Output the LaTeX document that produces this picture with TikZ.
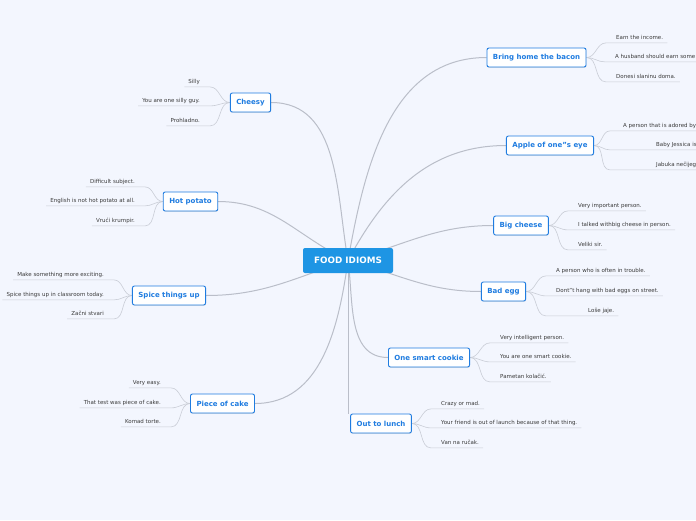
\documentclass[tikz,border=0pt]{standalone}
\usepackage{fontspec}
\setmainfont{DejaVu Sans}
\usetikzlibrary{shadows,backgrounds}
\definecolor{paper}{HTML}{F3F6FE}
\definecolor{mapblue}{HTML}{1E95E4}
\definecolor{topicblue}{HTML}{1F7CE0}
\definecolor{twiggrey}{HTML}{C9CDD6}
\definecolor{branchgrey}{HTML}{BABEC9}
\definecolor{leafink}{HTML}{3A3A3A}

\begin{document}
\begin{tikzpicture}[x=1pt, y=1pt,
    root/.style={rectangle, rounded corners=2pt, fill=mapblue, text=white, font=\fontsize{8.8}{10}\selectfont\bfseries, minimum width=90pt, minimum height=25pt},
    topic/.style={rectangle, rounded corners=2pt, draw=topicblue, line width=0.9pt, fill=white, text=topicblue, font=\fontsize{7}{8}\selectfont\bfseries, minimum height=19pt, inner xsep=6pt, drop shadow={opacity=0.2, shadow xshift=0.4pt, shadow yshift=-0.8pt}},
    leaf/.style={font=\fontsize{5.5}{6.5}\selectfont, text=leafink, inner xsep=4pt, inner ysep=2.2pt, text height=4pt, text depth=1pt},
    rleaf/.style={leaf, anchor=west},
    lleaf/.style={leaf, anchor=east},
    branch/.style={draw=branchgrey, line width=1pt},
    twig/.style={draw=twiggrey, line width=0.6pt}
]
\useasboundingbox (0,0) rectangle (696,-520);

% centre
\node[root] (food) at (348,-260.5) {FOOD IDIOMS};

% topics, right side
\node[topic] (bacon)  at (536.5,-57.5)  {Bring home the bacon};
\node[topic] (apple)  at (550,-145.5)   {Apple of one"s eye};
\node[topic] (bigch)  at (521,-225.5)   {Big cheese};
\node[topic] (badegg) at (503.5,-291.5) {Bad egg};
\node[topic] (cookie) at (429,-357.5)   {One smart cookie};
\node[topic] (lunch)  at (381,-423.5)   {Out to lunch};

% topics, left side
\node[topic] (cheesy) at (250.5,-102.5) {Cheesy};
\node[topic] (potato) at (190.5,-201.5) {Hot potato};
\node[topic] (spice)  at (169,-295.5)   {Spice things up};
\node[topic] (cake)   at (222.5,-403.5) {Piece of cake};

% leaves
\node[rleaf] (bacon1) at (612,-38) {Earn the income.};
\node[rleaf] (bacon2) at (611,-57) {A husband should earn some};
\node[rleaf] (bacon3) at (612,-77) {Donesi slaninu doma.};

\node[rleaf] (apple1) at (619,-126) {A person that is adored by};
\node[rleaf] (apple2) at (652,-145) {Baby Jessica is};
\node[rleaf] (apple3) at (652,-165) {Jabuka nečijeg};

\node[rleaf] (bigch1) at (574,-206) {Very important person.};
\node[rleaf] (bigch2) at (574,-225) {I talked withbig cheese in person.};
\node[rleaf] (bigch3) at (574,-245) {Veliki sir.};

\node[rleaf] (badegg1) at (552,-271) {A person who is often in trouble.};
\node[rleaf] (badegg2) at (552,-291) {Dont"t hang with bad eggs on street.};
\node[rleaf] (badegg3) at (584,-311) {Loše jaje.};

\node[rleaf] (cookie1) at (496,-338) {Very intelligent person.};
\node[rleaf] (cookie2) at (496,-357) {You are one smart cookie.};
\node[rleaf] (cookie3) at (496,-377) {Pametan kolačić.};

\node[rleaf] (lunch1) at (437,-404) {Crazy or mad.};
\node[rleaf] (lunch2) at (437,-423) {Your friend is out of launch because of that thing.};
\node[rleaf] (lunch3) at (437,-443) {Van na ručak.};

\node[lleaf] (cheesy1) at (204,-82)  {Silly};
\node[lleaf] (cheesy2) at (204,-101) {You are one silly guy.};
\node[lleaf] (cheesy3) at (204,-121) {Prohladno.};

\node[lleaf] (potato1) at (139,-182) {Difficult subject.};
\node[lleaf] (potato2) at (139,-201) {English is not hot potato at all.};
\node[lleaf] (potato3) at (139,-221) {Vrući krumpir.};

\node[lleaf] (spice1) at (108,-275) {Make something more exciting.};
\node[lleaf] (spice2) at (108,-295) {Spice things up in classroom today.};
\node[lleaf] (spice3) at (108,-314) {Začni stvari};

\node[lleaf] (cake1) at (165,-383) {Very easy.};
\node[lleaf] (cake2) at (165,-403) {That test was piece of cake.};
\node[lleaf] (cake3) at (165,-422) {Komad torte.};

\begin{pgfonlayer}{background}
\fill[paper] (0,0) rectangle (696,-520);

% main branches
\draw[branch] (food.center) to[out=80,in=180] (bacon.west);
\draw[branch] (food.center) to[out=62,in=180] (apple.west);
\draw[branch] (food.center) to[out=15,in=180] (bigch.west);
\draw[branch] (food.center) to[out=-15,in=180] (badegg.west);
\draw[branch] (food.center) to[out=-82,in=180] (cookie.west);
\draw[branch] (food.center) -- (food.center |- lunch.north);
\draw[branch] (food.center) to[out=100,in=0] (cheesy.east);
\draw[branch] (food.center) to[out=155,in=0] (potato.east);
\draw[branch] (food.center) to[out=198,in=0] (spice.east);
\draw[branch] (food.center) to[out=262,in=0] (cake.east);

% twigs, right side
\draw[twig] (bacon.east) to[out=0,in=180] ([xshift=-6pt]bacon1.south west) -- (bacon1.south east);
\draw[twig] (bacon.east) to[out=0,in=180] ([xshift=-6pt]bacon2.south west) -- (bacon2.south east);
\draw[twig] (bacon.east) to[out=0,in=180] ([xshift=-6pt]bacon3.south west) -- (bacon3.south east);

\draw[twig] (apple.east) to[out=0,in=180] ([xshift=-9pt]apple1.south west) -- ([xshift=40pt]apple1.south east);
\draw[twig] (apple.east) to[out=0,in=180] ([xshift=-42pt]apple2.south west) -- ([xshift=20pt]apple2.south east);
\draw[twig] (apple.east) to[out=0,in=180] ([xshift=-42pt]apple3.south west) -- ([xshift=20pt]apple3.south east);

\draw[twig] (bigch.east) to[out=0,in=180] ([xshift=-6pt]bigch1.south west) -- (bigch1.south east);
\draw[twig] (bigch.east) to[out=0,in=180] ([xshift=-6pt]bigch2.south west) -- (bigch2.south east);
\draw[twig] (bigch.east) to[out=0,in=180] ([xshift=-6pt]bigch3.south west) -- (bigch3.south east);

\draw[twig] (badegg.east) to[out=0,in=180] ([xshift=-6pt]badegg1.south west) -- (badegg1.south east);
\draw[twig] (badegg.east) to[out=0,in=180] ([xshift=-6pt]badegg2.south west) -- (badegg2.south east);
\draw[twig] (badegg.east) to[out=0,in=180] ([xshift=-38pt]badegg3.south west) -- (badegg3.south east);

\draw[twig] (cookie.east) to[out=0,in=180] ([xshift=-6pt]cookie1.south west) -- (cookie1.south east);
\draw[twig] (cookie.east) to[out=0,in=180] ([xshift=-6pt]cookie2.south west) -- (cookie2.south east);
\draw[twig] (cookie.east) to[out=0,in=180] ([xshift=-6pt]cookie3.south west) -- (cookie3.south east);

\draw[twig] (lunch.east) to[out=0,in=180] ([xshift=-6pt]lunch1.south west) -- (lunch1.south east);
\draw[twig] (lunch.east) to[out=0,in=180] ([xshift=-6pt]lunch2.south west) -- (lunch2.south east);
\draw[twig] (lunch.east) to[out=0,in=180] ([xshift=-6pt]lunch3.south west) -- (lunch3.south east);

% twigs, left side
\draw[twig] (cheesy.west) to[out=180,in=0] ([xshift=6pt]cheesy1.south east) -- (cheesy1.south west);
\draw[twig] (cheesy.west) to[out=180,in=0] ([xshift=6pt]cheesy2.south east) -- (cheesy2.south west);
\draw[twig] (cheesy.west) to[out=180,in=0] ([xshift=6pt]cheesy3.south east) -- (cheesy3.south west);

\draw[twig] (potato.west) to[out=180,in=0] ([xshift=6pt]potato1.south east) -- (potato1.south west);
\draw[twig] (potato.west) to[out=180,in=0] ([xshift=6pt]potato2.south east) -- (potato2.south west);
\draw[twig] (potato.west) to[out=180,in=0] ([xshift=6pt]potato3.south east) -- (potato3.south west);

\draw[twig] (spice.west) to[out=180,in=0] ([xshift=6pt]spice1.south east) -- (spice1.south west);
\draw[twig] (spice.west) to[out=180,in=0] ([xshift=6pt]spice2.south east) -- (spice2.south west);
\draw[twig] (spice.west) to[out=180,in=0] ([xshift=6pt]spice3.south east) -- (spice3.south west);

\draw[twig] (cake.west) to[out=180,in=0] ([xshift=6pt]cake1.south east) -- (cake1.south west);
\draw[twig] (cake.west) to[out=180,in=0] ([xshift=6pt]cake2.south east) -- (cake2.south west);
\draw[twig] (cake.west) to[out=180,in=0] ([xshift=6pt]cake3.south east) -- (cake3.south west);
\end{pgfonlayer}
\end{tikzpicture}
\end{document}
